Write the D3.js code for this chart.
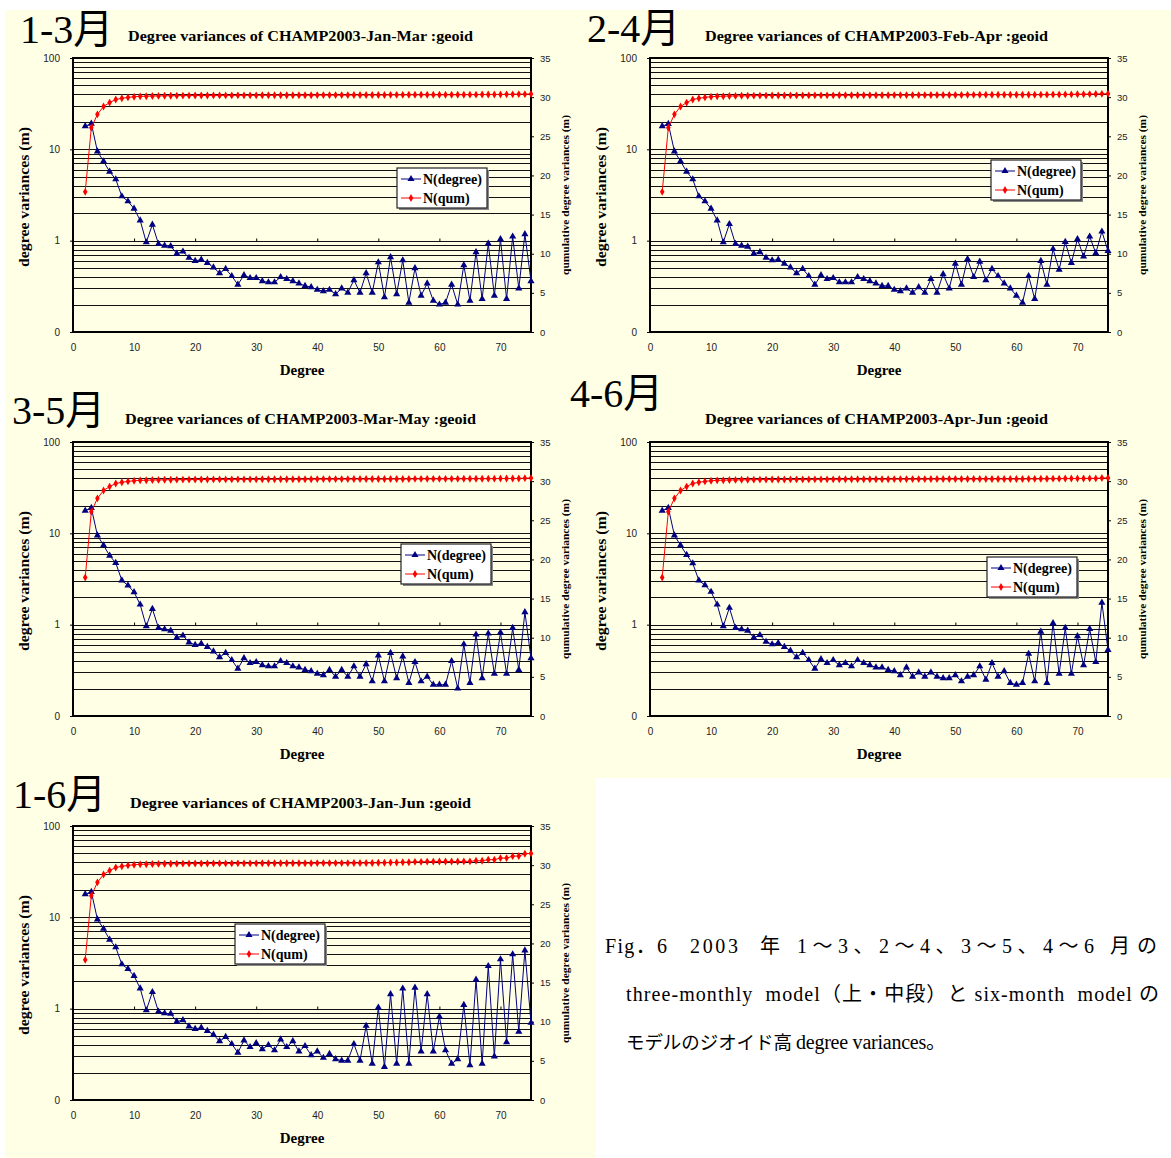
<!DOCTYPE html>
<html>
<head>
<meta charset="utf-8">
<script src="https://cdn.jsdelivr.net/npm/d3@7"></script>
<style>
  body { margin: 0; background: #fff; }
  .tick text { font-family: "Liberation Sans", Arial, sans-serif; fill: #222; }
</style>
</head>
<body>
<svg id="fig" width="1171" height="1158"></svg>
<script>
// spherical harmonic degrees on the x axis
const degrees = [2,3,4,5,6,7,8,9,10,11,12,13,14,15,16,17,18,19,20,21,22,23,24,25,26,27,28,29,30,31,
  32,33,34,35,36,37,38,39,40,41,42,43,44,45,46,47,48,49,50,51,52,53,54,55,56,57,58,59,60,61,
  62,63,64,65,66,67,68,69,70,71,72,73,74,75];

// tick labels
const xTicks = [0, 10, 20, 30, 40, 50, 60, 70];
const leftTicks = [0.1, 1, 10, 100];
const leftTickLabels = ['0', '1', '10', '100'];
const rightTicks = [0, 5, 10, 15, 20, 25, 30, 35];
const legendNames = ['N(degree)', 'N(qum)'];

// N(degree), m  (log axis, left)
const deg13 = [17.9,19.1,9.5,7.4,5.7,4.7,3.06,2.7,2.24,1.67,
  0.96,1.50,0.92,0.88,0.87,0.72,0.76,0.65,0.60,0.62,
  0.57,0.51,0.44,0.49,0.41,0.33,0.42,0.39,0.39,0.36,
  0.35,0.35,0.40,0.38,0.36,0.34,0.32,0.31,0.29,0.28,
  0.29,0.26,0.30,0.27,0.37,0.27,0.44,0.27,0.58,0.24,
  0.66,0.26,0.61,0.21,0.50,0.25,0.34,0.22,0.20,0.21,
  0.33,0.20,0.54,0.22,0.75,0.23,0.93,0.25,1.04,0.23,
  1.11,0.30,1.18,0.36];
const deg24 = [17.9,19.0,9.5,7.4,5.7,4.7,3.06,2.7,2.24,1.67,
  0.96,1.52,0.92,0.88,0.86,0.72,0.75,0.65,0.61,0.62,
  0.56,0.51,0.44,0.49,0.41,0.33,0.42,0.38,0.39,0.35,
  0.35,0.35,0.40,0.38,0.36,0.34,0.32,0.32,0.29,0.28,
  0.30,0.27,0.31,0.27,0.38,0.27,0.43,0.30,0.56,0.33,
  0.63,0.40,0.59,0.37,0.49,0.41,0.34,0.30,0.25,0.21,
  0.41,0.23,0.60,0.33,0.81,0.48,0.97,0.57,1.04,0.67,
  1.11,0.73,1.26,0.77];
const deg35 = [17.7,19.0,9.5,7.4,5.7,4.75,3.05,2.69,2.27,1.66,
  0.96,1.49,0.92,0.89,0.86,0.72,0.76,0.64,0.60,0.62,
  0.57,0.51,0.44,0.49,0.41,0.33,0.43,0.38,0.39,0.36,
  0.35,0.35,0.40,0.38,0.35,0.34,0.32,0.31,0.29,0.28,
  0.32,0.27,0.32,0.27,0.35,0.27,0.37,0.24,0.46,0.24,
  0.49,0.26,0.45,0.23,0.39,0.24,0.27,0.22,0.22,0.22,
  0.40,0.20,0.61,0.23,0.78,0.26,0.80,0.29,0.82,0.29,
  0.92,0.32,1.37,0.43];
const deg46 = [17.7,19.0,9.5,7.4,5.8,4.7,3.05,2.71,2.29,1.66,
  0.96,1.53,0.92,0.89,0.86,0.72,0.77,0.65,0.61,0.63,
  0.57,0.52,0.44,0.49,0.41,0.33,0.42,0.38,0.41,0.36,
  0.38,0.35,0.41,0.38,0.36,0.34,0.34,0.32,0.31,0.28,
  0.34,0.27,0.30,0.27,0.30,0.27,0.26,0.26,0.28,0.24,
  0.27,0.28,0.35,0.25,0.38,0.27,0.31,0.23,0.22,0.23,
  0.48,0.24,0.84,0.23,1.04,0.29,0.92,0.29,0.75,0.36,
  0.90,0.39,1.74,0.53];
const deg16 = [17.9,19.0,9.5,7.5,5.7,4.7,3.06,2.72,2.28,1.67,
  0.96,1.52,0.93,0.89,0.88,0.72,0.75,0.64,0.60,0.62,
  0.57,0.52,0.44,0.49,0.41,0.33,0.45,0.38,0.42,0.36,
  0.40,0.35,0.46,0.38,0.44,0.34,0.39,0.31,0.34,0.29,
  0.32,0.28,0.27,0.27,0.41,0.27,0.65,0.25,1.03,0.23,
  1.44,0.25,1.66,0.25,1.70,0.34,1.44,0.34,0.82,0.35,
  0.25,0.28,1.10,0.24,2.08,0.25,2.93,0.30,3.47,0.43,
  3.94,0.56,4.35,0.70];

// N(qum), m  (linear axis, right)
const qum13 = [17.9,26.1,27.8,28.8,29.3,29.7,29.85,29.97,30.05,30.1,
  30.12,30.15,30.16,30.17,30.18,30.19,30.2,30.2,30.21,30.21,
  30.21,30.22,30.22,30.22,30.22,30.23,30.23,30.23,30.23,30.24,
  30.24,30.24,30.24,30.25,30.25,30.25,30.25,30.25,30.26,30.26,
  30.26,30.26,30.26,30.26,30.27,30.27,30.27,30.27,30.28,30.28,
  30.29,30.29,30.29,30.3,30.3,30.3,30.3,30.3,30.3,30.3,
  30.3,30.31,30.31,30.32,30.32,30.33,30.33,30.34,30.34,30.36,
  30.36,30.38,30.38,30.4];
const qum24 = [17.9,26.1,27.8,28.8,29.3,29.7,29.85,29.97,30.05,30.1,
  30.12,30.15,30.16,30.17,30.18,30.19,30.2,30.2,30.21,30.21,
  30.21,30.22,30.22,30.22,30.22,30.23,30.23,30.23,30.23,30.24,
  30.24,30.24,30.24,30.25,30.25,30.25,30.25,30.25,30.26,30.26,
  30.26,30.26,30.26,30.26,30.27,30.27,30.27,30.27,30.28,30.28,
  30.29,30.29,30.3,30.3,30.31,30.31,30.31,30.31,30.31,30.31,
  30.31,30.31,30.32,30.32,30.33,30.33,30.35,30.35,30.37,30.37,
  30.39,30.4,30.42,30.43];
const qum35 = [17.7,26.1,27.8,28.8,29.3,29.7,29.85,29.97,30.05,30.1,
  30.12,30.15,30.16,30.17,30.18,30.19,30.2,30.2,30.21,30.21,
  30.21,30.22,30.22,30.22,30.22,30.23,30.23,30.23,30.23,30.24,
  30.24,30.24,30.24,30.25,30.25,30.25,30.25,30.25,30.26,30.26,
  30.26,30.26,30.26,30.26,30.27,30.27,30.27,30.27,30.27,30.27,
  30.28,30.28,30.28,30.28,30.29,30.29,30.29,30.29,30.29,30.29,
  30.29,30.29,30.3,30.3,30.31,30.31,30.32,30.32,30.33,30.33,
  30.34,30.34,30.38,30.39];
const qum46 = [17.7,26.1,27.8,28.8,29.3,29.7,29.85,29.97,30.05,30.1,
  30.12,30.15,30.16,30.17,30.18,30.19,30.2,30.2,30.21,30.21,
  30.21,30.22,30.22,30.22,30.22,30.23,30.23,30.23,30.23,30.24,
  30.24,30.24,30.24,30.25,30.25,30.25,30.25,30.25,30.26,30.26,
  30.26,30.26,30.26,30.26,30.27,30.27,30.27,30.27,30.27,30.27,
  30.27,30.27,30.28,30.28,30.28,30.28,30.28,30.28,30.28,30.28,
  30.29,30.29,30.3,30.3,30.32,30.32,30.33,30.33,30.34,30.34,
  30.35,30.35,30.4,30.41];
const qum16 = [17.9,26.1,27.8,28.8,29.3,29.7,29.85,29.97,30.05,30.1,
  30.12,30.15,30.16,30.17,30.18,30.19,30.2,30.2,30.21,30.21,
  30.21,30.22,30.22,30.22,30.22,30.23,30.23,30.23,30.23,30.24,
  30.24,30.24,30.24,30.25,30.25,30.25,30.25,30.25,30.26,30.26,
  30.26,30.26,30.26,30.26,30.27,30.27,30.28,30.28,30.3,30.3,
  30.33,30.33,30.37,30.37,30.42,30.42,30.45,30.45,30.46,30.46,
  30.46,30.46,30.48,30.48,30.56,30.56,30.7,30.7,30.9,30.9,
  31.15,31.16,31.45,31.5];

const W = 458, H = 274;
const serif = '"Liberation Serif", "DejaVu Serif", "Noto Sans CJK JP", serif';
const navy = '#000080', red = '#ff0000';

const svg = d3.select('#fig');

// page background: pale yellow, white block behind the caption
svg.append('rect').attr('x', 5).attr('y', 10).attr('width', 1166).attr('height', 1148).attr('fill', '#ffffe6');
svg.append('rect').attr('x', 596).attr('y', 778).attr('width', 575).attr('height', 380).attr('fill', '#fff');

const x = d3.scaleLinear().domain([0, 75]).range([0, W]);
const yL = d3.scaleLog().domain([0.1, 100]).range([H, 0]);
const yR = d3.scaleLinear().domain([0, 35]).range([H, 0]);

const panels = [
  {px: 73, py: 58, label: '1-3月', lx: 20, ly: 43, title: 'Degree variances of CHAMP2003-Jan-Mar :geoid',
   tx: 128, tw: 345, ty: 41, legX: 397, legY: 168, deg: deg13, qum: qum13},
  {px: 650, py: 58, label: '2-4月', lx: 587, ly: 42, title: 'Degree variances of CHAMP2003-Feb-Apr :geoid',
   tx: 705, tw: 343, ty: 41, legX: 991, legY: 160, deg: deg24, qum: qum24},
  {px: 73, py: 442, label: '3-5月', lx: 12, ly: 424, title: 'Degree variances of CHAMP2003-Mar-May :geoid',
   tx: 125, tw: 351, ty: 424, legX: 401, legY: 544, deg: deg35, qum: qum35},
  {px: 650, py: 442, label: '4-6月', lx: 570, ly: 407, title: 'Degree variances of CHAMP2003-Apr-Jun :geoid',
   tx: 705, tw: 343, ty: 424, legX: 987, legY: 557, deg: deg46, qum: qum46},
  {px: 73, py: 826, label: '1-6月', lx: 13, ly: 808, title: 'Degree variances of CHAMP2003-Jan-Jun :geoid',
   tx: 130, tw: 341, ty: 808, legX: 235, legY: 924, deg: deg16, qum: qum16}
];

function drawPanel(p) {

    svg.append('text')
        .attr('x', p.lx).attr('y', p.ly)
        .style('font-family', serif).style('font-size', '40px')
        .text(p.label);

    svg.append('text')
        .attr('x', p.tx).attr('y', p.ty)
        .attr('textLength', p.tw).attr('lengthAdjust', 'spacingAndGlyphs')
        .style('font-family', serif).style('font-size', '15px').style('font-weight', 'bold')
        .text(p.title);

    const g = svg.append('g').attr('transform', 'translate(' + p.px + ',' + p.py + ')');

    // log grid: every minor value of each decade
    g.selectAll('line.grid')
        .data(yL.ticks())
        .enter().append('line')
        .attr('class', 'grid')
        .attr('x1', 0).attr('x2', W)
        .attr('y1', function(d) { return Math.round(yL(d)) + 0.5; })
        .attr('y2', function(d) { return Math.round(yL(d)) + 0.5; })
        .attr('stroke', '#111').attr('stroke-width', 1);

    // category axis crosses at 1: its ticks sit on that line
    const cross = g.append('g').attr('transform', 'translate(0,' + (Math.round(yL(1)) + 0.5) + ')')
        .call(d3.axisTop(x).tickValues(xTicks).tickSize(3).tickFormat(''));
    cross.select('.domain').remove();

    const bottom = g.append('g').attr('transform', 'translate(0,' + H + ')')
        .call(d3.axisBottom(x).tickValues(xTicks).tickSize(0).tickPadding(12));
    bottom.select('.domain').remove();
    bottom.selectAll('text').style('font-size', '10px');

    const left = g.append('g')
        .call(d3.axisLeft(yL).tickValues(leftTicks).tickSize(3).tickPadding(10)
            .tickFormat(function(d, i) { return leftTickLabels[i]; }));
    left.select('.domain').remove();
    left.selectAll('text').style('font-size', '10px');

    const right = g.append('g').attr('transform', 'translate(' + W + ',0)')
        .call(d3.axisRight(yR).tickValues(rightTicks).tickSize(3).tickPadding(6));
    right.select('.domain').remove();
    right.selectAll('text').style('font-size', '9.5px');

    g.append('rect')
        .attr('width', W).attr('height', H)
        .attr('fill', 'none').attr('stroke', '#000').attr('stroke-width', 2);

    // axis titles
    g.append('text')
        .attr('transform', 'translate(-44,' + (H / 2 + 2) + ') rotate(-90)')
        .attr('text-anchor', 'middle')
        .attr('textLength', 140).attr('lengthAdjust', 'spacingAndGlyphs')
        .style('font-family', serif).style('font-size', '14.5px').style('font-weight', 'bold')
        .text('degree variances (m)');

    g.append('text')
        .attr('transform', 'translate(' + (W + 38) + ',' + (H / 2) + ') rotate(-90)')
        .attr('text-anchor', 'middle')
        .attr('textLength', 160).attr('lengthAdjust', 'spacingAndGlyphs')
        .style('font-family', serif).style('font-size', '10px').style('font-weight', 'bold')
        .text('qumulative degree variances (m)');

    g.append('text')
        .attr('x', W / 2).attr('y', H + 43)
        .attr('text-anchor', 'middle')
        .style('font-family', serif).style('font-size', '15px').style('font-weight', 'bold')
        .text('Degree');

    // series
    const degPts = degrees.map(function(d, i) { return {deg: d, v: p.deg[i]}; });
    const qumPts = degrees.map(function(d, i) { return {deg: d, v: p.qum[i]}; });

    g.append('path')
        .datum(degPts)
        .attr('fill', 'none').attr('stroke', navy).attr('stroke-width', 1)
        .attr('d', d3.line().x(function(d) { return x(d.deg); }).y(function(d) { return yL(d.v); }));

    g.selectAll('path.tri')
        .data(degPts)
        .enter().append('path')
        .attr('class', 'tri')
        .attr('transform', function(d) { return 'translate(' + x(d.deg) + ',' + yL(d.v) + ')'; })
        .attr('d', d3.symbol().type(d3.symbolTriangle).size(22))
        .attr('fill', navy);

    g.append('path')
        .datum(qumPts)
        .attr('fill', 'none').attr('stroke', red).attr('stroke-width', 1)
        .attr('d', d3.line().x(function(d) { return x(d.deg); }).y(function(d) { return yR(d.v); }));

    g.selectAll('path.dia')
        .data(qumPts)
        .enter().append('path')
        .attr('class', 'dia')
        .attr('transform', function(d) { return 'translate(' + x(d.deg) + ',' + yR(d.v) + ')'; })
        .attr('d', d3.symbol().type(d3.symbolDiamond).size(18))
        .attr('fill', red);

    // legend
    const lg = svg.append('g').attr('transform', 'translate(' + p.legX + ',' + p.legY + ')');
    lg.append('rect').attr('x', 2).attr('y', 2).attr('width', 90).attr('height', 40).attr('fill', '#888');
    lg.append('rect').attr('width', 90).attr('height', 40)
        .attr('fill', '#fff').attr('stroke', '#222').attr('stroke-width', 1.2);

    const entries = [{name: legendNames[0], color: navy, sym: d3.symbolTriangle, size: 22},
                     {name: legendNames[1], color: red, sym: d3.symbolDiamond, size: 18}];
    entries.forEach(function(e, i) {
        const yy = 11 + i * 19;
        lg.append('line').attr('x1', 4).attr('x2', 24).attr('y1', yy).attr('y2', yy)
            .attr('stroke', e.color).attr('stroke-width', 1);
        lg.append('path').attr('transform', 'translate(14,' + yy + ')')
            .attr('d', d3.symbol().type(e.sym).size(e.size)).attr('fill', e.color);
        lg.append('text').attr('x', 26).attr('y', yy + 5)
            .style('font-family', serif).style('font-size', '14px').style('font-weight', 'bold')
            .text(e.name);
    });
}

panels.forEach(drawPanel);

// caption: first line placed piece by piece, second justified to the line width
const caption = [
  {t: 'Fig．6', x: 605, y: 953, w: 62, fs: 20},
  {t: '2003', x: 690, y: 953, w: 48, fs: 20},
  {t: '年', x: 760, y: 953, w: 19, fs: 20},
  {t: '1～3、2～4、3～5、4～6', x: 797, y: 953, w: 297, fs: 20},
  {t: '月の', x: 1110, y: 953, w: 47, fs: 20},
  {t: 'three-monthly  model（上・中段）と six-month  model の', x: 626, y: 1001, w: 533, fs: 20},
  {t: 'モデルのジオイド高', x: 626, y: 1049, w: 166, fs: 18.5},
  {t: 'degree variances。', x: 796, y: 1049, w: 150, fs: 20}
];
svg.selectAll('text.caption')
    .data(caption)
    .enter().append('text')
    .attr('class', 'caption')
    .attr('x', function(d) { return d.x; })
    .attr('y', function(d) { return d.y; })
    .attr('textLength', function(d) { return d.w; })
    .attr('lengthAdjust', 'spacing')
    .attr('xml:space', 'preserve')
    .style('white-space', 'pre')
    .style('font-family', serif)
    .style('font-size', function(d) { return d.fs + 'px'; })
    .text(function(d) { return d.t; });
</script>
</body>
</html>
